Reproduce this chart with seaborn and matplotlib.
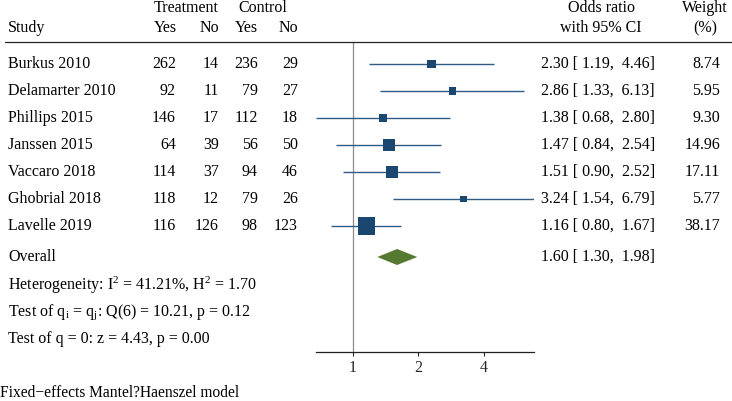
import numpy as np
import pandas as pd
import matplotlib
matplotlib.use("Agg")
import matplotlib.pyplot as plt
import matplotlib.transforms as mtransforms
import seaborn as sns

# ---------------- data ----------------
studies = ["Burkus 2010", "Delamarter 2010", "Phillips 2015", "Janssen 2015",
           "Vaccaro 2018", "Ghobrial 2018", "Lavelle 2019"]
treat_yes = [262, 92, 146, 64, 114, 118, 116]
treat_no = [14, 11, 17, 39, 37, 12, 126]
ctrl_yes = [236, 79, 112, 56, 94, 79, 98]
ctrl_no = [29, 27, 18, 50, 46, 26, 123]
odds_ratio = [2.30, 2.86, 1.38, 1.47, 1.51, 3.24, 1.16]
ci_low = [1.19, 1.33, 0.68, 0.84, 0.90, 1.54, 0.80]
ci_high = [4.46, 6.13, 2.80, 2.54, 2.52, 6.79, 1.67]
weights = [8.74, 5.95, 9.30, 14.96, 17.11, 5.77, 38.17]
overall = [1.60, 1.30, 1.98]   # estimate, low, high
x_ticks = [1, 2, 4]
stats_lines = [
    r"Heterogeneity: I$^{2}$ = 41.21%, H$^{2}$ = 1.70",
    r"Test of q$_{\mathrm{i}}$ = q$_{\mathrm{j}}$: Q(6) = 10.21, p = 0.12",
    "Test of q = 0: z = 4.43, p = 0.00",
]
footnote = "Fixed\u2212effects Mantel?Haenszel model"

# ---------------- style ----------------
sns.set_style("white")
plt.rcParams["font.family"] = ["Liberation Serif", "DejaVu Serif"]
plt.rcParams["mathtext.fontset"] = "custom"
plt.rcParams["mathtext.rm"] = "Liberation Serif"
plt.rcParams["mathtext.it"] = "Liberation Serif:italic"
plt.rcParams["mathtext.default"] = "regular"

FS = 11.5
W, H = 732, 401
navy = "#1a476f"
green = "#55792f"

fig = plt.figure(figsize=(W / 100, H / 100), dpi=100)
ax_left, ax_right, ax_top, ax_bot = 316, 534, 42, 352
ax = fig.add_axes([ax_left / W, 1 - ax_bot / H, (ax_right - ax_left) / W,
                   (ax_bot - ax_top) / H])

pitch = 27.0
row0 = 64.0
def r(px):
    return (px - row0) / pitch

rows = np.arange(len(studies), dtype=float)
y_overall = r(257)

df = pd.DataFrame({"study": studies, "or": odds_ratio, "lo": ci_low,
                   "hi": ci_high, "w": weights, "row": rows})

ax.set_xscale("log", base=2)
ax.axvline(1, color="#8c8c8c", lw=0.9, zorder=1)
ax.hlines(df["row"], df["lo"], df["hi"], color="#2f5b85", lw=1.0, zorder=2)
sns.scatterplot(data=df, x="or", y="row", size="w",
                sizes=(4.27 * min(weights), 4.27 * max(weights)),
                marker="s", color=navy, linewidth=0, legend=False, ax=ax,
                zorder=3)
est, lo, hi = overall
dh = 8 / pitch
ax.fill([lo, est, hi, est], [y_overall, y_overall - dh, y_overall, y_overall + dh],
        color=green, lw=0, zorder=3)

ax.set_xlim(0.68, 6.79)
ax.set_ylim(r(ax_bot), r(ax_top))
ax.set_xticks(x_ticks)
ax.set_xticklabels([str(t) for t in x_ticks], fontsize=FS)
ax.xaxis.set_minor_locator(matplotlib.ticker.NullLocator())
ax.set_yticks([])
ax.set_xlabel("")
ax.set_ylabel("")
for s in ["top", "left", "right"]:
    ax.spines[s].set_visible(False)
ax.spines["bottom"].set_color("#222222")
ax.spines["bottom"].set_linewidth(0.9)
ax.tick_params(axis="x", direction="out", length=3, width=0.8, pad=2.5,
               color="#222222", bottom=True)
ax.set_facecolor("none")

tr = mtransforms.blended_transform_factory(fig.transFigure, ax.transData)
def fx(px):
    return px / W

def txt(x, y, s, ha="left", size=FS):
    return ax.text(fx(x), y, s, transform=tr, ha=ha, va="center", fontsize=size,
                   color="black", clip_on=False)

# headers
txt(186, r(8), "Treatment", "center")
txt(263, r(8), "Control", "center")
txt(8, r(28), "Study")
txt(177, r(28), "Yes", "right")
txt(219, r(28), "No", "right")
txt(258, r(28), "Yes", "right")
txt(298, r(28), "No", "right")
txt(601, r(8), "Odds ratio", "center")
txt(601, r(28), "with 95% CI", "center")
txt(705, r(8), "Weight", "center")
txt(705, r(28), "(%)", "center")

ax.plot([fx(5), 1.0], [r(42), r(42)], transform=tr, color="#222222", lw=0.9,
        clip_on=False)

for i, name in enumerate(studies):
    y = rows[i]
    txt(8, y, name)
    txt(176, y, str(treat_yes[i]), "right")
    txt(219, y, str(treat_no[i]), "right")
    txt(258, y, str(ctrl_yes[i]), "right")
    txt(298, y, str(ctrl_no[i]), "right")
    txt(541, y, f"{odds_ratio[i]:.2f} [{ci_low[i]:5.2f}, {ci_high[i]:5.2f}]")
    txt(720, y, f"{weights[i]:.2f}", "right")

txt(8, y_overall, "Overall")
txt(541, y_overall, f"{est:.2f} [{lo:5.2f}, {hi:5.2f}]")
for k, line in enumerate(stats_lines):
    txt(8, r(285 + 27 * k), line)
txt(0, r(393), footnote, size=11.2)

fig.savefig("out.png", dpi=100)
